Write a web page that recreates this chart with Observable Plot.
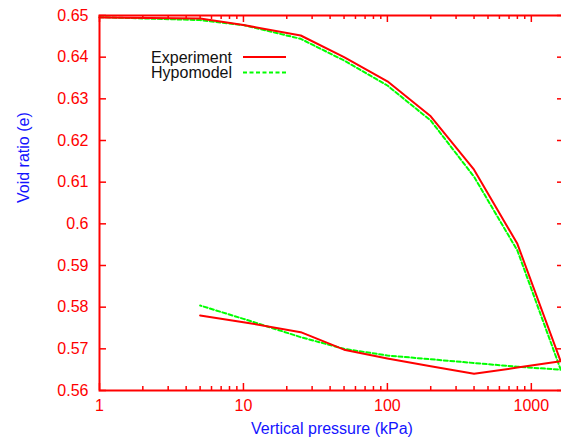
<!DOCTYPE html>
<html>
<head>
<meta charset="utf-8">
<script src="https://cdn.jsdelivr.net/npm/d3@7"></script>
<script src="https://cdn.jsdelivr.net/npm/@observablehq/plot@0.6"></script>
<style>
  body { margin: 0; background: #fff; }
  #chart svg { display: block; }
</style>
</head>
<body>
<div id="chart"></div>
<script>
// Oedometer test: void ratio vs vertical pressure, loading then unloading path
const loadPressure = [1, 5, 10, 25, 50, 100, 200, 400, 800, 1600];
const unloadPressure = [1600, 800, 400, 200, 100, 50, 25, 10, 5];

const experimentLoad = [0.6495, 0.6493, 0.6477, 0.6452, 0.6400, 0.6342, 0.6258, 0.6130, 0.5952, 0.5670];
const experimentUnload = [0.5670, 0.5655, 0.5640, 0.5658, 0.5677, 0.5698, 0.5740, 0.5764, 0.5780];

const hypoLoad = [0.6496, 0.6489, 0.6477, 0.6444, 0.6392, 0.6332, 0.6248, 0.6113, 0.5936, 0.5650];
const hypoUnload = [0.5650, 0.5657, 0.5666, 0.5675, 0.5684, 0.5700, 0.5728, 0.5772, 0.5804];

const seriesNames = ["Experiment", "Hypomodel"];
const xMajorTicks = [1, 10, 100, 1000];
const xMinorTicks = [2, 3, 4, 5, 6, 7, 8, 9, 20, 30, 40, 50, 60, 70, 80, 90, 200, 300, 400, 500, 600, 700, 800, 900];
const yTicks = [0.56, 0.57, 0.58, 0.59, 0.6, 0.61, 0.62, 0.63, 0.64, 0.65];
const xLabel = "Vertical pressure (kPa)";
const yLabel = "Void ratio (e)";

const RED = "#ff0000";
const GREEN = "#00ff00";
const BLUE = "#1414ff";
const FONT = "'Liberation Sans', Arial, Helvetica, sans-serif";
const FONT_SIZE = 16;

const width = 561, height = 445;
const marginLeft = 99, marginRight = -3, marginTop = 15, marginBottom = 55;
const innerW = width - marginLeft - marginRight;
const innerH = height - marginTop - marginBottom;
const majorLen = 7, minorLen = 4;

const toRows = (xs, ys, series) => xs.map((p, i) => ({p, e: ys[i], series}));
const experimentRows = [...toRows(loadPressure, experimentLoad, seriesNames[0]), ...toRows(unloadPressure, experimentUnload, seriesNames[0])];
const hypoRows = [...toRows(loadPressure, hypoLoad, seriesNames[1]), ...toRows(unloadPressure, hypoUnload, seriesNames[1])];

const plot = Plot.plot({
  width, height, marginLeft, marginRight, marginTop, marginBottom,
  style: {fontFamily: FONT, fontSize: `${FONT_SIZE}px`, background: "#fff", overflow: "hidden"},
  x: {type: "log", domain: [1, 1700]},
  y: {domain: [0.56, 0.65]},
  marks: [
    // inward tick marks on all four sides
    Plot.tickX(xMajorTicks, {x: d => d, stroke: RED, strokeWidth: 1.5, insetTop: innerH - majorLen}),
    Plot.tickX(xMajorTicks, {x: d => d, stroke: RED, strokeWidth: 1.5, insetBottom: innerH - majorLen}),
    Plot.tickX(xMinorTicks, {x: d => d, stroke: RED, strokeWidth: 1.5, insetTop: innerH - minorLen}),
    Plot.tickX(xMinorTicks, {x: d => d, stroke: RED, strokeWidth: 1.5, insetBottom: innerH - minorLen}),
    Plot.tickY(yTicks, {y: d => d, stroke: RED, strokeWidth: 1.5, insetRight: innerW - majorLen}),
    Plot.tickY(yTicks, {y: d => d, stroke: RED, strokeWidth: 1.5, insetLeft: innerW - majorLen}),
    Plot.axisX({ticks: xMajorTicks, tickSize: 0, tickPadding: 9, tickFormat: d => String(d), color: RED, label: null, fontSize: FONT_SIZE}),
    Plot.axisY({ticks: yTicks, tickSize: 0, tickPadding: 11, tickFormat: d => String(d), color: RED, label: null, fontSize: FONT_SIZE}),
    Plot.text([xLabel], {text: d => d, frameAnchor: "bottom", dy: 43, fill: BLUE, fontSize: FONT_SIZE}),
    Plot.text([yLabel], {text: d => d, frameAnchor: "left", dx: -76, rotate: -90, fill: BLUE, fontSize: FONT_SIZE}),
    Plot.line(hypoRows, {x: "p", y: "e", stroke: GREEN, strokeWidth: 2, strokeDasharray: "4,2.5"}),
    Plot.line(experimentRows, {x: "p", y: "e", stroke: RED, strokeWidth: 2}),
    Plot.frame({stroke: RED, strokeWidth: 2})
  ]
});

// legend: label on the left, line sample on the right
const legend = d3.select(plot).append("g")
  .attr("font-family", FONT)
  .attr("font-size", FONT_SIZE);
const legendStyles = [
  {stroke: RED, dash: null},
  {stroke: GREEN, dash: "4,2.5"}
];
seriesNames.forEach((name, i) => {
  const y = marginTop + 42 + i * 15.5;
  legend.append("text")
    .attr("x", marginLeft + 133)
    .attr("y", y)
    .attr("dy", "0.35em")
    .attr("text-anchor", "end")
    .attr("fill", "#111")
    .text(name);
  legend.append("line")
    .attr("x1", marginLeft + 144)
    .attr("x2", marginLeft + 187)
    .attr("y1", y)
    .attr("y2", y)
    .attr("stroke", legendStyles[i].stroke)
    .attr("stroke-width", 2)
    .attr("stroke-dasharray", legendStyles[i].dash);
});

document.getElementById("chart").appendChild(plot);
</script>
</body>
</html>
